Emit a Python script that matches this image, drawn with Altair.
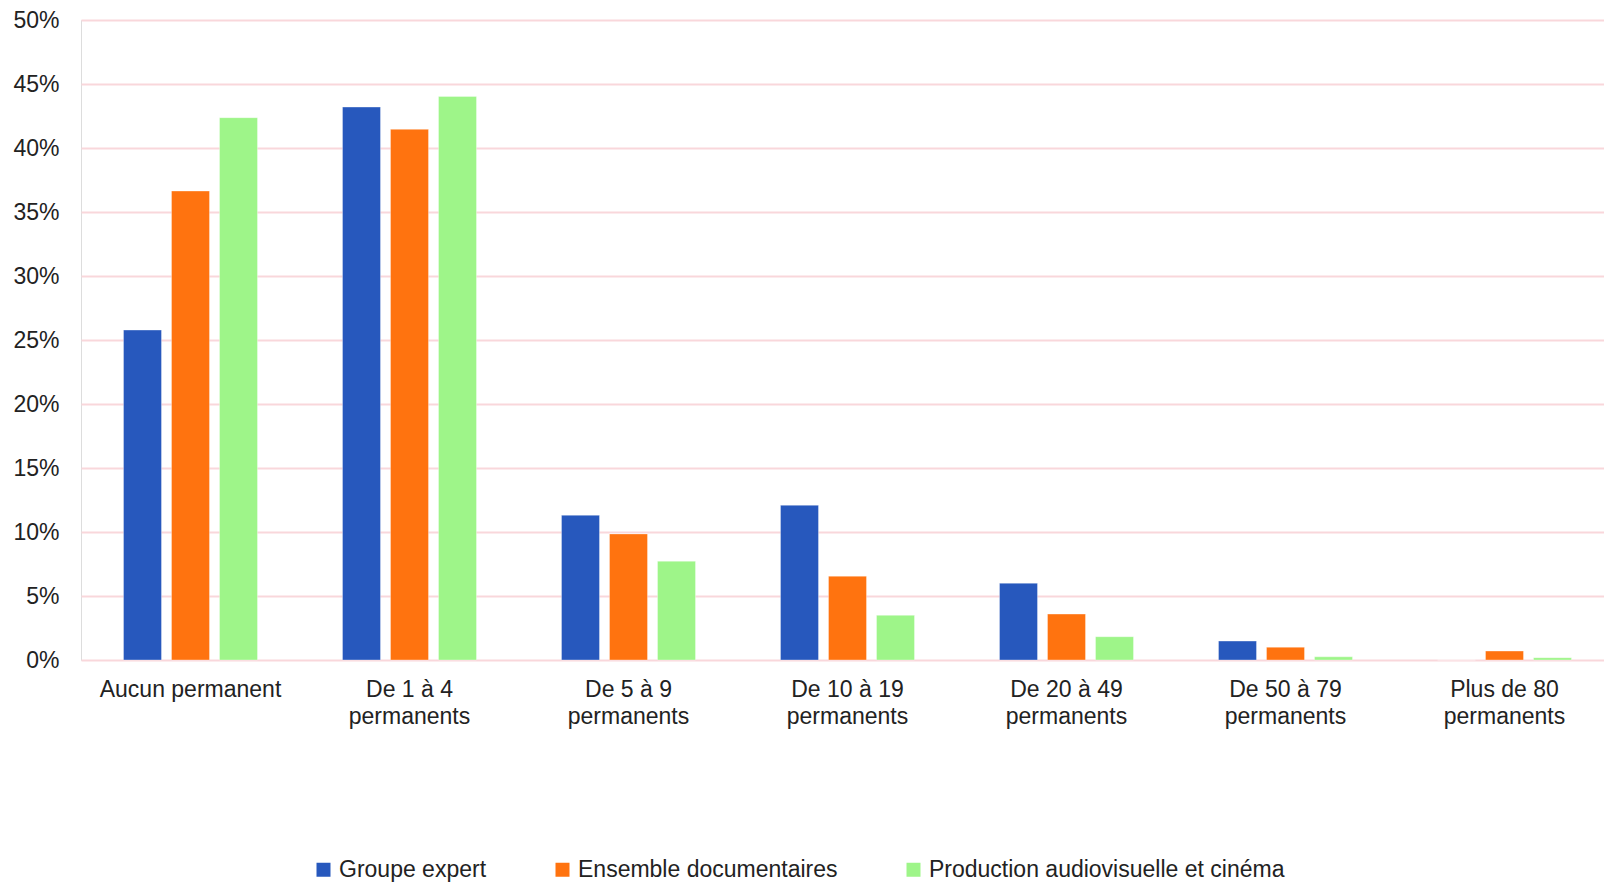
import altair as alt
import pandas as pd

categories = [
    "Aucun permanent",
    "De 1 à 4 permanents",
    "De 5 à 9 permanents",
    "De 10 à 19 permanents",
    "De 20 à 49 permanents",
    "De 50 à 79 permanents",
    "Plus de 80 permanents",
]
series = ["Groupe expert", "Ensemble documentaires", "Production audiovisuelle et cinéma"]
groupe_expert = [0.2578, 0.432, 0.1131, 0.1209, 0.060, 0.0148, 0.0]
ensemble_doc = [0.3664, 0.4146, 0.0985, 0.0655, 0.0359, 0.0100, 0.0070]
production_av = [0.4237, 0.4403, 0.0772, 0.0349, 0.0182, 0.0025, 0.0018]
colors = ["#2758BD", "#FF730F", "#9EF589"]
y_ticks = [0, 0.05, 0.10, 0.15, 0.20, 0.25, 0.30, 0.35, 0.40, 0.45, 0.50]

rows = []
for s, vals in zip(series, [groupe_expert, ensemble_doc, production_av]):
    for c, v in zip(categories, vals):
        rows.append({"cat": c, "serie": s, "val": v})
df = pd.DataFrame(rows)

FONT = "Liberation Sans"

chart = (
    alt.Chart(df)
    .mark_bar(stroke="white", strokeOpacity=0.35, strokeWidth=1)
    .encode(
        x=alt.X(
            "cat:N",
            sort=categories,
            title=None,
            scale=alt.Scale(range=[0, 1533], paddingInner=0.388, paddingOuter=0.194),
            axis=alt.Axis(
                labelAngle=0,
                ticks=False,
                domain=False,
                labelPadding=18,
                labelFontSize=23,
                labelLineHeight=27,
                labelFont=FONT,
                labelColor="#222222",
                labelLimit=300,
                labelExpr="indexof(datum.label, ' permanents') > 0 ? [replace(datum.label, ' permanents', ''), 'permanents'] : datum.label",
            ),
        ),
        xOffset=alt.XOffset(
            "serie:N",
            sort=series,
            scale=alt.Scale(paddingInner=0.208, paddingOuter=0),
        ),
        y=alt.Y(
            "val:Q",
            title=None,
            scale=alt.Scale(domain=[0, 0.5], nice=False),
            axis=alt.Axis(
                values=y_ticks,
                format=".0%",
                ticks=False,
                domain=False,
                labelPadding=22,
                labelFontSize=23,
                labelFont=FONT,
                labelColor="#222222",
                grid=True,
                gridColor="#F9D7DB",
                gridWidth=2,
            ),
        ),
        color=alt.Color(
            "serie:N",
            sort=series,
            scale=alt.Scale(domain=series, range=colors),
            legend=alt.Legend(
                title=None,
                orient="none",
                legendX=231,
                legendY=838,
                direction="horizontal",
                symbolType="square",
                symbolSize=196,
                symbolStrokeWidth=0,
                labelFontSize=23,
                labelFont=FONT,
                labelColor="#222222",
                labelOffset=4,
                columnPadding=64,
                labelLimit=500,
            ),
        ),
    )
    .properties(
        width=1523,
        height=640,
        autosize=alt.AutoSizeParams(type="none"),
        padding={"left": 73, "top": 12, "right": 0, "bottom": 223},
    )
    .configure_view(stroke=None)
    .configure(background="white")
)

chart.save("out.html", embed_options={"renderer": "svg", "actions": False})
